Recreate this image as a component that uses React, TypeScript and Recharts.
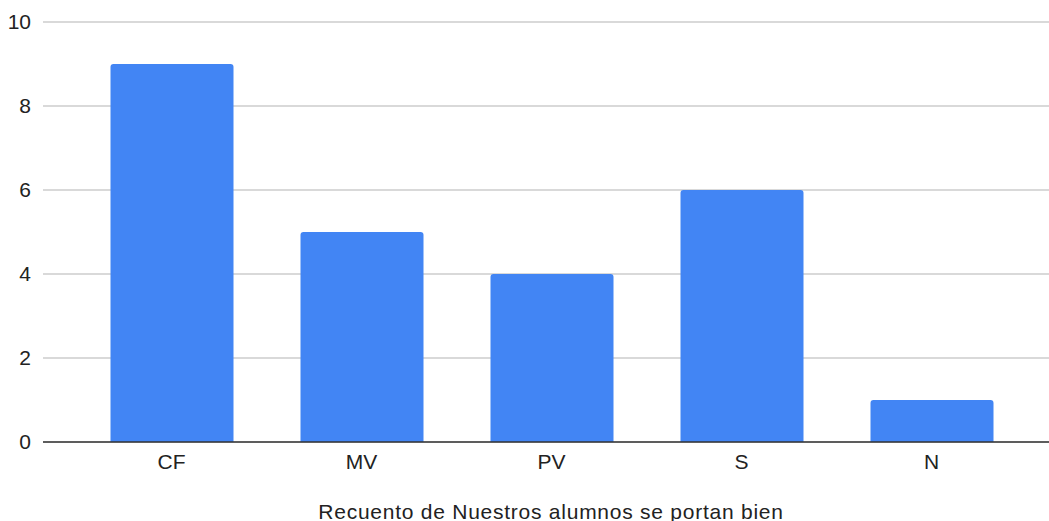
import React from "react";
import { BarChart, Bar, XAxis, YAxis, CartesianGrid, Label } from "recharts";

const categories = ["CF", "MV", "PV", "S", "N"];
const counts = [9, 5, 4, 6, 1];
const yTicks = [0, 2, 4, 6, 8, 10];
const axisTitle = "Recuento de Nuestros alumnos se portan bien";

const data = categories.map((c, i) => ({ name: c, value: counts[i] }));

const font = "'Liberation Sans', Arial, sans-serif";

export default function App() {
  return (
    <div style={{ position: "absolute", left: 0, top: 0, background: "#fff" }}>
      <BarChart
        width={1049}
        height={521}
        data={data}
        margin={{ top: 22, right: 0, bottom: 0, left: 0 }}
        style={{ fontFamily: font }}
      >
        <CartesianGrid horizontal={true} vertical={false} stroke="#cccccc" strokeWidth={1.5} />
        <YAxis
          width={43}
          domain={[0, 10]}
          ticks={yTicks}
          axisLine={false}
          tickLine={false}
          tickSize={0}
          tickMargin={12}
          tick={{ fill: "#222", fontSize: 21, fontFamily: font }}
        />
        <XAxis
          dataKey="name"
          height={79}
          padding={{ left: 33.5, right: 22.5 }}
          axisLine={{ stroke: "#333", strokeWidth: 1.5 }}
          tickLine={false}
          tickSize={0}
          tickMargin={12}
          tick={{ fill: "#222", fontSize: 21, fontFamily: font }}
        >
          <Label
            value={axisTitle}
            position="insideBottom"
            offset={2}
            dx={5}
            style={{ fill: "#222", fontSize: 21, letterSpacing: 0.75, fontFamily: font }}
          />
        </XAxis>
        <Bar dataKey="value" fill="#4285F4" barSize={123} radius={[3, 3, 0, 0]} isAnimationActive={false} />
      </BarChart>
    </div>
  );
}
